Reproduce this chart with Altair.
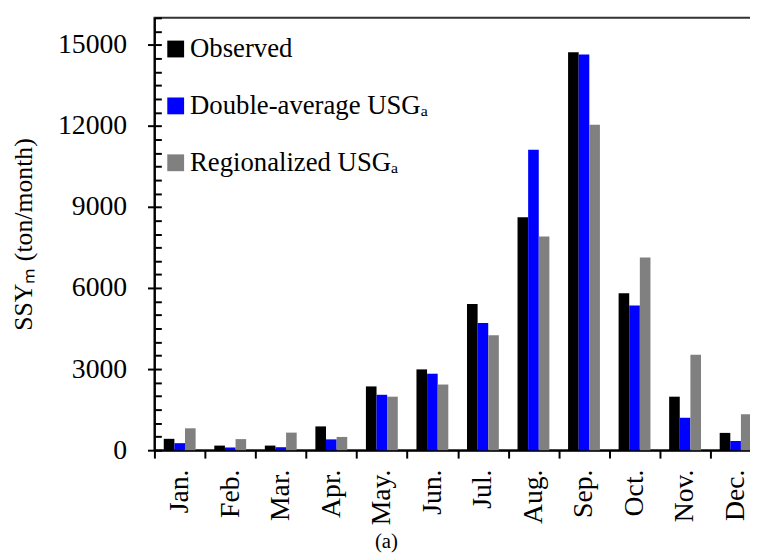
import altair as alt
import pandas as pd

months = ["Jan.", "Feb.", "Mar.", "Apr.", "May.", "Jun.", "Jul.", "Aug.", "Sep.", "Oct.", "Nov.", "Dec."]
observed = [420, 170, 170, 880, 2360, 2990, 5410, 8620, 14730, 5810, 1980, 640]
double_avg = [260, 100, 110, 400, 2050, 2830, 4710, 11120, 14640, 5350, 1200, 340]
regional = [810, 410, 650, 490, 1980, 2430, 4250, 7910, 12040, 7130, 3530, 1330]
series = ["Observed", "Double-average USG\u2090", "Regionalized USG\u2090"]
colors = ["#000000", "#0000ff", "#808080"]
y_ticks = [0, 3000, 6000, 9000, 12000, 15000]
minor_ticks = list(range(0, 16001, 500))

rows = []
for i, m in enumerate(months):
    for s, vals in zip(series, [observed, double_avg, regional]):
        rows.append({"month": m, "series": s, "value": vals[i]})
df = pd.DataFrame(rows)

FONT = "Liberation Serif"
W, H = 613, 437

bars = alt.Chart(df).mark_bar().encode(
    x=alt.X("month:N", sort=months,
            scale=alt.Scale(paddingInner=0, paddingOuter=0),
            axis=alt.Axis(title=None, labelAngle=-90, tickBand="extent", grid=False,
                          tickSize=8, tickWidth=2, tickColor="#000",
                          domainWidth=2, domainColor="#000",
                          labelPadding=11, labelFontSize=28, labelFont=FONT,
                          labelColor="#000")),
    xOffset=alt.XOffset("series:N", sort=series,
                        scale=alt.Scale(paddingInner=0, paddingOuter=0.88)),
    y=alt.Y("value:Q", scale=alt.Scale(domain=[0, 16000], nice=False),
            axis=alt.Axis(values=y_ticks, format="d", tickSize=7, tickWidth=2, grid=False,
                          tickColor="#000", domainWidth=2, domainColor="#000",
                          labelPadding=21, labelFontSize=28, labelFont=FONT,
                          labelColor="#000",
                          title="SSY\u2098 (ton/month)", titleFont=FONT,
                          titleFontSize=26, titleFontWeight="normal",
                          titleColor="#000", titlePadding=21)),
    color=alt.Color("series:N", sort=series,
                    scale=alt.Scale(domain=series, range=colors),
                    legend=alt.Legend(title=None, orient="none", legendX=8, legendY=18,
                                      symbolType="square", symbolSize=289,
                                      symbolStrokeWidth=0, labelFontSize=27,
                                      labelFont=FONT, labelColor="#000",
                                      labelOffset=1, rowPadding=29.5, padding=0,
                                      labelLimit=400)),
)

minor_df = pd.DataFrame({"tick": minor_ticks})
inner = alt.Chart(minor_df).mark_rule(opacity=0).encode(
    y=alt.Y("tick:Q", scale=alt.Scale(domain=[0, 16000], nice=False),
            axis=alt.Axis(orient="right", offset=-W, values=minor_ticks, labels=False,
                          domain=False, grid=False, title=None, tickSize=7, tickWidth=2,
                          tickColor="#000")),
)

chart = alt.layer(bars, inner).resolve_axis(y="independent").properties(
    width=W, height=H,
    autosize=alt.AutoSizeParams(type="none"),
    padding={"left": 148, "top": 7, "right": -11, "bottom": 104},
    title=alt.TitleParams("(a)", orient="bottom", anchor="middle", frame="group",
                          dx=-72, offset=6, fontSize=21, font=FONT,
                          fontWeight="normal", color="#000"),
).configure(font=FONT).configure_axis(
    labelFont=FONT, titleFont=FONT, grid=False
).configure_title(font=FONT, fontSize=21).configure_legend(labelFont=FONT).configure_view(
    stroke="#333", strokeWidth=2)

chart.save("out.html", embed_options={"renderer": "svg", "actions": False})
